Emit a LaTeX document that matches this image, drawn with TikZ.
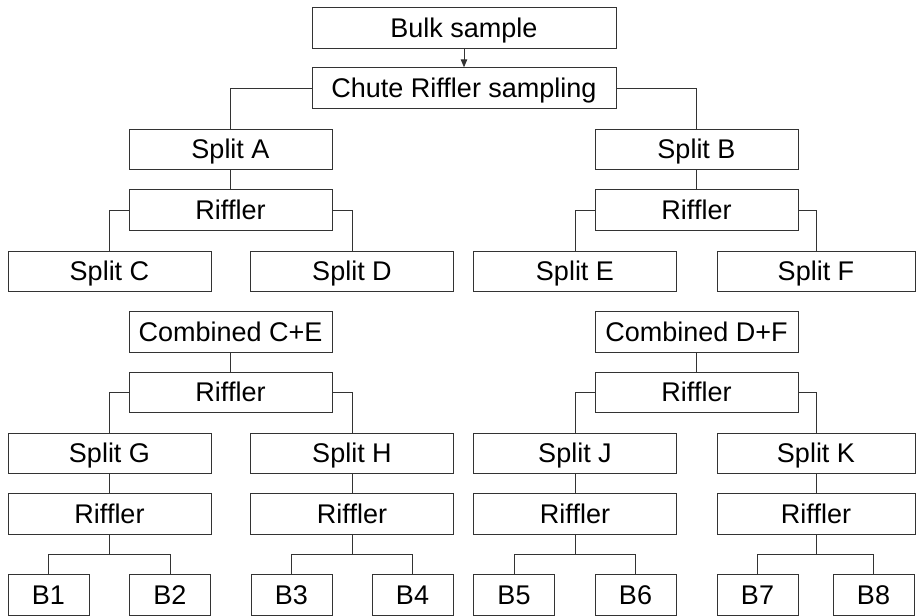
\documentclass[tikz,border=0pt]{standalone}
\usepackage{fontspec}
\setmainfont{Liberation Sans}[Ligatures=NoCommon]
\usetikzlibrary{arrows.meta}
\begin{document}
\begin{tikzpicture}[x=1pt, y=-1pt,
  box/.style={draw=black!80, line width=0.9pt, fill=white, inner sep=0pt,
    minimum height=40.5pt, text height=18.6pt, text depth=0pt,
    font=\fontsize{27pt}{30pt}\selectfont},
  wide/.style={box, minimum width=203pt},
  narrow/.style={box, minimum width=81pt},
  link/.style={draw=black!80, line width=0.9pt},
  feed/.style={link, -{Triangle[length=8pt, width=6.5pt]}}]
\useasboundingbox (0,0) rectangle (916,616);

% Top of the tree
\node[box, minimum width=304pt] (bulk)  at (464,28)  {Bulk sample};
\node[box, minimum width=304pt] (chute) at (464,88)  {Chute Riffler sampling};

% First split
\node[wide] (splitA) at (230.5,149.5) {Split A};
\node[wide] (rifA)   at (230.5,210)   {Riffler};
\node[wide] (splitB) at (696.5,149.5) {Split B};
\node[wide] (rifB)   at (696.5,210)   {Riffler};

\node[wide] (splitC) at (109.5,271.5) {Split C};
\node[wide] (splitD) at (352,271.5)   {Split D};
\node[wide] (splitE) at (575,271.5)   {Split E};
\node[box, minimum width=198pt] (splitF) at (816,271.5) {Split F};

% Combined portions
\node[wide] (combCE) at (230.5,332)   {Combined C+E};
\node[wide] (rifCE)  at (230.5,392.5) {Riffler};
\node[wide] (combDF) at (696.5,332)   {Combined D+F};
\node[wide] (rifDF)  at (696.5,392.5) {Riffler};

\node[wide] (splitG) at (109.5,453.5) {Split G};
\node[wide] (splitH) at (352,453.5)   {Split H};
\node[wide] (splitJ) at (575,453.5)   {Split J};
\node[box, minimum width=198pt] (splitK) at (816,453.5) {Split K};

\node[wide] (rifG) at (109.5,514) {Riffler};
\node[wide] (rifH) at (352,514)   {Riffler};
\node[wide] (rifJ) at (575,514)   {Riffler};
\node[box, minimum width=198pt] (rifK) at (816,514) {Riffler};

% Final bags
\node[narrow] (b1) at (48.5,595)  {B1};
\node[narrow] (b2) at (170,595)   {B2};
\node[narrow] (b3) at (291.5,595) {B3};
\node[narrow] (b4) at (412.5,595) {B4};
\node[narrow] (b5) at (514,595)   {B5};
\node[narrow] (b6) at (635.5,595) {B6};
\node[narrow] (b7) at (757.5,595) {B7};
\node[narrow] (b8) at (873.5,595) {B8};

% Connectors
\draw[feed] (bulk.south) -- (chute.north);
\draw[link] (chute.west) -| (splitA.north);
\draw[link] (chute.east) -| (splitB.north);

\draw[link] (splitA) -- (rifA);
\draw[link] (splitB) -- (rifB);
\draw[link] (rifA.west) -| (splitC.north);
\draw[link] (rifA.east) -| (splitD.north);
\draw[link] (rifB.west) -| (splitE.north);
\draw[link] (rifB.east) -| (splitF.north);

\draw[link] (combCE) -- (rifCE);
\draw[link] (combDF) -- (rifDF);
\draw[link] (rifCE.west) -| (splitG.north);
\draw[link] (rifCE.east) -| (splitH.north);
\draw[link] (rifDF.west) -| (splitJ.north);
\draw[link] (rifDF.east) -| (splitK.north);

\draw[link] (splitG) -- (rifG);
\draw[link] (splitH) -- (rifH);
\draw[link] (splitJ) -- (rifJ);
\draw[link] (splitK) -- (rifK);

% Each last riffler forks into two bags
\foreach \r/\l/\s in {rifG/b1/b2, rifH/b3/b4, rifJ/b5/b6, rifK/b7/b8}{
  \coordinate (fork-\r) at ([yshift=-20pt]\r.south);
  \draw[link] (\r.south) -- (fork-\r);
  \draw[link] (\l.north) |- (fork-\r) -| (\s.north);
}
\end{tikzpicture}
\end{document}
